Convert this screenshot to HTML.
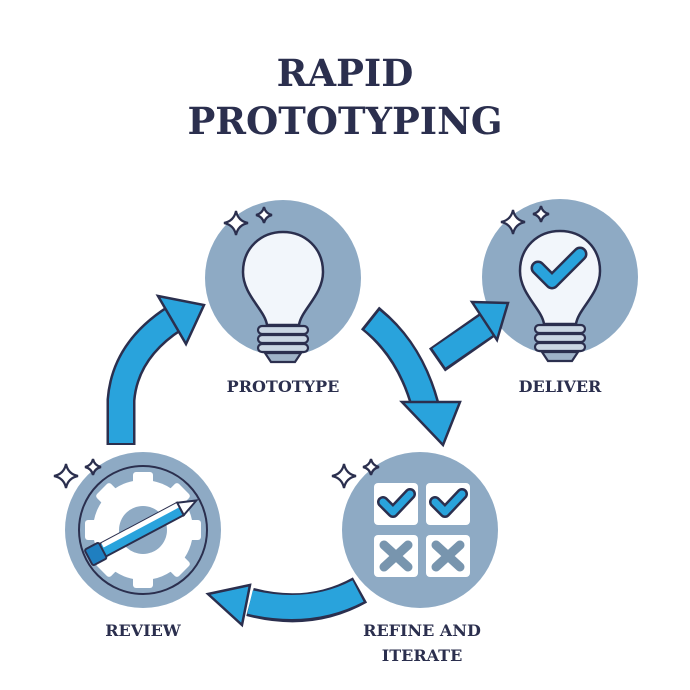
<!DOCTYPE html>
<html><head><meta charset="utf-8"><style>
html,body{margin:0;padding:0;background:#fff}
svg{display:block}
text{font-family:"DejaVu Serif","Liberation Serif",serif;font-weight:bold;fill:#2b2f4e}
</style></head><body>
<svg width="690" height="690" viewBox="0 0 690 690" xmlns="http://www.w3.org/2000/svg">
<defs>
<g id="spark">
<path d="M0,-12 Q2,-2 12,0 Q2,2 0,12 Q-2,2 -12,0 Q-2,-2 0,-12Z" fill="#fff" stroke="#2b2f4e" stroke-width="2.2"/>
</g>
<g id="spark2">
<path d="M0,-8 Q1.5,-1.5 8,0 Q1.5,1.5 0,8 Q-1.5,1.5 -8,0 Q-1.5,-1.5 0,-8Z" fill="#fff" stroke="#2b2f4e" stroke-width="2.2"/>
</g>
<g id="bulb">
<path d="M-16,35 C-18,20 -40,5 -40,-18 C-40,-42 -22,-58 0,-58 C22,-58 40,-42 40,-18 C40,5 18,20 16,35 Z" fill="#f2f6fb" stroke="#2b2f4e" stroke-width="2.5"/>
<rect x="-25" y="36" width="50" height="8" rx="4" fill="#c9d6e3" stroke="#2b2f4e" stroke-width="2.2"/>
<rect x="-25" y="45" width="50" height="8" rx="4" fill="#c9d6e3" stroke="#2b2f4e" stroke-width="2.2"/>
<rect x="-25" y="54" width="50" height="8" rx="4" fill="#c9d6e3" stroke="#2b2f4e" stroke-width="2.2"/>
<path d="M-18,63 L18,63 L12,72 L-12,72Z" fill="#9fb3c8" stroke="#2b2f4e" stroke-width="2.2"/>
</g>
</defs>
<text x="345" y="86" font-size="37" text-anchor="middle">RAPID</text>
<text x="345" y="134" font-size="37" text-anchor="middle">PROTOTYPING</text>

<!-- circles -->
<circle cx="283" cy="278" r="78" fill="#8eaac4"/>
<circle cx="560" cy="277" r="78" fill="#8eaac4"/>
<circle cx="143" cy="530" r="78" fill="#8eaac4"/>
<circle cx="420" cy="530" r="78" fill="#8eaac4"/>

<!-- sparkles -->
<use href="#spark" x="236" y="223"/><use href="#spark2" x="264" y="215"/>
<use href="#spark" x="513" y="222"/><use href="#spark2" x="541" y="214"/>
<use href="#spark" x="66" y="476"/><use href="#spark2" x="93" y="467"/>
<use href="#spark" x="344" y="476"/><use href="#spark2" x="371" y="467"/>

<!-- bulbs -->
<use href="#bulb" x="283" y="290"/>
<use href="#bulb" x="560" y="289"/>
<path d="M538,268 L552,282 L580,254" fill="none" stroke="#2b2f4e" stroke-width="15" stroke-linecap="round" stroke-linejoin="round"/>
<path d="M538,268 L552,282 L580,254" fill="none" stroke="#29a3dc" stroke-width="10" stroke-linecap="round" stroke-linejoin="round"/>

<!-- review gear -->
<circle cx="143" cy="530" r="64" fill="none" stroke="#2b2f4e" stroke-width="2"/>
<g fill="#fff">
<circle cx="143" cy="530" r="50"/>
<g>
<rect x="133" y="472" width="20" height="20" rx="3"/>
<rect x="133" y="568" width="20" height="20" rx="3"/>
<rect x="85" y="520" width="20" height="20" rx="3"/>
<rect x="181" y="520" width="20" height="20" rx="3"/>
<rect x="133" y="472" width="20" height="20" rx="3" transform="rotate(45 143 530)"/>
<rect x="133" y="472" width="20" height="20" rx="3" transform="rotate(-45 143 530)"/>
<rect x="133" y="472" width="20" height="20" rx="3" transform="rotate(135 143 530)"/>
<rect x="133" y="472" width="20" height="20" rx="3" transform="rotate(-135 143 530)"/>
</g>
</g>
<circle cx="143" cy="530" r="24" fill="#8eaac4"/>
<g transform="rotate(-28 143 530)">
<rect x="90" y="522" width="96" height="14" fill="#29a3dc" stroke="#2b2f4e" stroke-width="2"/>
<rect x="100" y="522" width="86" height="5" fill="#fff"/>
<path d="M186,522 L204,529 L186,536Z" fill="#fff" stroke="#2b2f4e" stroke-width="2"/>
<rect x="82" y="520" width="16" height="18" rx="2" fill="#1f7fc0" stroke="#2b2f4e" stroke-width="2"/>
</g>

<!-- refine grid -->
<g fill="#fff">
<rect x="374" y="483" width="44" height="42" rx="4"/>
<rect x="426" y="483" width="44" height="42" rx="4"/>
<rect x="374" y="535" width="44" height="42" rx="4"/>
<rect x="426" y="535" width="44" height="42" rx="4"/>
</g>
<g fill="none" stroke-linecap="round" stroke-linejoin="round">
<path d="M383,502 L393,512 L410,494" stroke="#2b2f4e" stroke-width="12"/>
<path d="M383,502 L393,512 L410,494" stroke="#29a3dc" stroke-width="7"/>
<path d="M435,502 L445,512 L462,494" stroke="#2b2f4e" stroke-width="12"/>
<path d="M435,502 L445,512 L462,494" stroke="#29a3dc" stroke-width="7"/>
<path d="M384,545 L408,567 M408,545 L384,567" stroke="#7895ae" stroke-width="9"/>
<path d="M436,545 L460,567 M460,545 L436,567" stroke="#7895ae" stroke-width="9"/>
</g>

<!-- arrows -->
<g stroke-linejoin="miter">
<!-- review -> prototype -->
<path d="M121,445 L121,400 Q125,350 175,318" fill="none" stroke="#2b2f4e" stroke-width="29"/>
<path d="M121,443 L121,400 Q125,350 175,318" fill="none" stroke="#29a3dc" stroke-width="24"/>
<path d="M158,296 L204,305 L186,344Z" fill="#29a3dc" stroke="#2b2f4e" stroke-width="2.5"/>
<!-- prototype -> refine -->
<path d="M370,318 Q410,350 425,405" fill="none" stroke="#2b2f4e" stroke-width="29"/>
<path d="M372,320 Q410,350 425,405" fill="none" stroke="#29a3dc" stroke-width="24"/>
<path d="M402,402 L460,402 L443,445Z" fill="#29a3dc" stroke="#2b2f4e" stroke-width="2.5"/>
<!-- prototype -> deliver -->
<path d="M437,360 L487,325" fill="none" stroke="#2b2f4e" stroke-width="28"/>
<path d="M439,358 L487,325" fill="none" stroke="#29a3dc" stroke-width="23"/>
<path d="M472,302 L508,303 L497,340Z" fill="#29a3dc" stroke="#2b2f4e" stroke-width="2.5"/>
<!-- refine -> review -->
<path d="M360,590 Q310,618 250,602" fill="none" stroke="#2b2f4e" stroke-width="29"/>
<path d="M358,591 Q310,616 250,602" fill="none" stroke="#29a3dc" stroke-width="24"/>
<path d="M250,585 L208,594 L242,625Z" fill="#29a3dc" stroke="#2b2f4e" stroke-width="2.5"/>
</g>

<!-- labels -->
<text x="283" y="392" font-size="16" text-anchor="middle">PROTOTYPE</text>
<text x="560" y="392" font-size="16" text-anchor="middle">DELIVER</text>
<text x="143" y="636" font-size="16" text-anchor="middle">REVIEW</text>
<text x="422" y="636" font-size="16" text-anchor="middle">REFINE AND</text>
<text x="422" y="661" font-size="16" text-anchor="middle">ITERATE</text>
</svg>
</body></html>
